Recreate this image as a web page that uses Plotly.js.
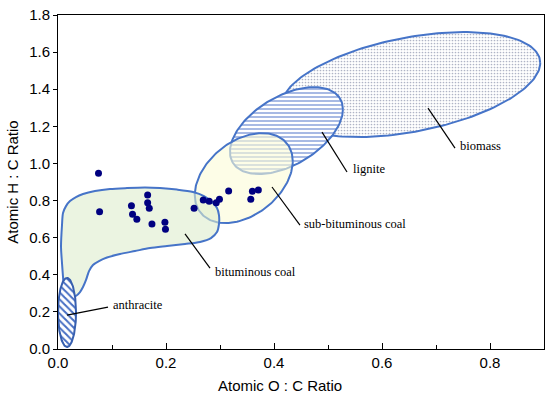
<!DOCTYPE html>
<html>
<head>
<meta charset="utf-8">
<script src="https://cdn.plot.ly/plotly-3.0.1.min.js"></script>
<style>html,body{margin:0;padding:0;background:#fff;}#chart{width:550px;height:397px;}</style>
</head>
<body>
<div id="chart"></div>
<script>
// Sample points (atomic O:C, H:C)
const sampleOC = [0.075,0.077,0.166,0.136,0.166,0.169,0.138,0.146,0.174,0.198,0.199,0.252,0.269,0.280,0.293,0.299,0.316,0.360,0.371,0.357];
const sampleHC = [0.947,0.740,0.830,0.772,0.788,0.758,0.726,0.699,0.673,0.683,0.645,0.758,0.803,0.796,0.788,0.807,0.851,0.850,0.857,0.807];

// Elliptical regions: centre, half-extent in x and y (data units), phase (deg) giving tilt
const regionNames = ["biomass","lignite","sub-bituminous coal","anthracite"];
const ellCX   = [0.653, 0.423, 0.344, 0.0167];
const ellCY   = [1.425, 1.177, 0.921, 0.197];
const ellHX   = [0.240, 0.1046, 0.0907, 0.0167];
const ellHY   = [0.283, 0.2344, 0.2425, 0.186];
const ellPhase= [65.7, 60.8, 67.9, 90];

// Bituminous coal region outline (traced)
const bitumOC = [0.0111,0.0093,0.0074,0.0056,0.0074,0.0093,0.0148,0.0222,0.0333,0.0463,0.0685,0.0963,0.1278,0.1611,0.1889,0.2204,0.25,0.2704,0.2852,0.2944,0.2981,0.2981,0.2944,0.2833,0.2630,0.2352,0.2019,0.1704,0.1426,0.1148,0.0907,0.0759,0.0648,0.0574,0.0519,0.0463,0.0407,0.0333,0.0222,0.0130];
const bitumHC = [0.318,0.388,0.463,0.550,0.668,0.733,0.770,0.797,0.819,0.835,0.851,0.862,0.867,0.870,0.867,0.859,0.846,0.824,0.792,0.760,0.722,0.673,0.630,0.598,0.577,0.566,0.555,0.544,0.528,0.512,0.493,0.474,0.453,0.420,0.372,0.334,0.307,0.286,0.280,0.291];

// Labels with leader lines: [line start x,y] -> [line end x,y], text position
const labelText = ["anthracite","bituminous coal","sub-bituminous coal","lignite","biomass"];
const leadX0 = [0.0167,0.2352,0.3963,0.4889,0.6852];
const leadY0 = [0.183,0.620,0.873,1.169,1.298];
const leadX1 = [0.0926,0.2815,0.4481,0.5352,0.7352];
const leadY1 = [0.226,0.436,0.668,0.954,1.083];
const textX  = [0.099,0.287,0.452,0.5426,0.7407];
const textY  = [0.236,0.415,0.673,0.970,1.094];

const xTicks = [0,0.2,0.4,0.6,0.8];
const yTicks = [0,0.2,0.4,0.6,0.8,1.0,1.2,1.4,1.6,1.8];

function ellipse(i){
  const xs=[], ys=[]; const ph = ellPhase[i]*Math.PI/180;
  for(let k=0;k<=180;k++){
    const t = 2*Math.PI*k/180;
    xs.push(ellCX[i] + ellHX[i]*Math.cos(t));
    ys.push(ellCY[i] + ellHY[i]*Math.cos(t-ph));
  }
  return {xs, ys};
}

const edge = 'rgb(70,116,200)';
const traces = [];
// biomass
let e = ellipse(0);
traces.push({x:e.xs,y:e.ys,mode:'lines',fill:'toself',line:{color:edge,width:2},
  fillcolor:'white',fillpattern:{shape:'.',fgcolor:'rgb(175,180,198)',bgcolor:'white',size:3,solidity:0.25},hoverinfo:'skip'});
// lignite
e = ellipse(1);
traces.push({x:e.xs,y:e.ys,mode:'lines',fill:'toself',line:{color:edge,width:2},
  fillcolor:'white',fillpattern:{shape:'-',fgcolor:'rgb(110,140,210)',bgcolor:'white',size:4,solidity:0.3},hoverinfo:'skip'});
// sub-bituminous
e = ellipse(2);
traces.push({x:e.xs,y:e.ys,mode:'lines',fill:'toself',line:{color:edge,width:2},
  fillcolor:'rgba(252,252,215,0.6)',hoverinfo:'skip'});
// bituminous
traces.push({x:bitumOC.concat([bitumOC[0]]),y:bitumHC.concat([bitumHC[0]]),mode:'lines',fill:'toself',
  line:{color:edge,width:2,shape:'spline',smoothing:0.8},fillcolor:'rgba(222,236,205,0.6)',hoverinfo:'skip'});
// anthracite
e = ellipse(3);
traces.push({x:e.xs,y:e.ys,mode:'lines',fill:'toself',line:{color:'rgb(55,95,175)',width:2},
  fillcolor:'white',fillpattern:{shape:'\\',fgcolor:'rgb(70,110,195)',bgcolor:'white',size:5,solidity:0.4},hoverinfo:'skip'});
// points
traces.push({x:sampleOC,y:sampleHC,mode:'markers',marker:{color:'rgb(0,0,128)',size:7},hoverinfo:'skip'});

const shapes = leadX0.map((v,i)=>({type:'line',xref:'x',yref:'y',x0:v,y0:leadY0[i],x1:leadX1[i],y1:leadY1[i],
  line:{color:'black',width:1.2},layer:'above'}));
const annotations = labelText.map((t,i)=>({text:t,x:textX[i],y:textY[i],xref:'x',yref:'y',showarrow:false,
  xanchor:'left',yanchor:'middle',font:{family:'Liberation Serif, Times New Roman, serif',size:12.5,color:'black'}}));
annotations.push({text:'Atomic O : C Ratio',xref:'paper',yref:'paper',x:0.457,y:-0.078,xanchor:'center',yanchor:'top',
  showarrow:false,font:{family:'Liberation Sans, Arial, sans-serif',size:15,color:'black'}});

const layout = {
  width:550,height:397,showlegend:false,
  margin:{l:58,r:6,t:15,b:48},
  paper_bgcolor:'white',plot_bgcolor:'white',
  font:{family:'Liberation Sans, Arial, sans-serif',size:15,color:'black'},
  xaxis:{range:[0,0.9],tickvals:xTicks,ticktext:xTicks.map(v=>v.toFixed(1)),ticks:'inside',ticklen:6,tickwidth:1,
    minor:{tickvals:[0.1,0.3,0.5,0.7],ticks:'inside',ticklen:4,tickcolor:'black'},
    showgrid:false,zeroline:false,showline:true,linecolor:'black',linewidth:1,mirror:true,tickcolor:'black',
    tickfont:{size:15}},
  yaxis:{range:[0,1.8],tickvals:yTicks,ticktext:yTicks.map(v=>v.toFixed(1)),ticks:'outside',ticklen:4,tickwidth:1,
    showgrid:false,zeroline:false,showline:true,linecolor:'black',linewidth:1,mirror:true,tickcolor:'black',
    tickfont:{size:15},title:{text:'Atomic H : C Ratio',font:{size:15},standoff:6}},
  shapes, annotations
};
Plotly.newPlot('chart',traces,layout,{displayModeBar:false,staticPlot:true});
</script>
</body>
</html>
